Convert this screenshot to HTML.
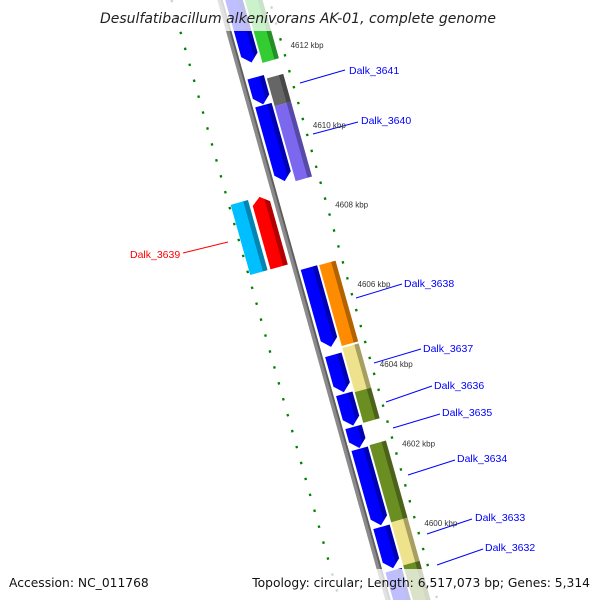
<!DOCTYPE html>
<html><head><meta charset="utf-8"><style>
html,body{margin:0;padding:0;background:#fff;width:600px;height:600px;overflow:hidden;}
svg{display:block;font-family:"Liberation Sans",sans-serif;}
</style></head><body>
<svg id="map" width="600" height="600" viewBox="0 0 600 600" overflow="hidden">
<defs id="defs"></defs>
<g id="rot" transform="translate(220,0) rotate(-15.64)">
  <rect x="-2.6" y="-100" width="5.2" height="800" fill="#8a8a8a"/>
  <rect x="0.8" y="-100" width="1.8" height="800" fill="#5e5e5e"/>
  <g id="ticks"></g>
  <g id="genes"></g>
</g>
<g id="labels" font-size="10.5" fill="#0000ff">
  <line x1="300" y1="83" x2="345" y2="70" stroke="#0000ff"/>
  <text x="349" y="74">Dalk_3641</text>
  <line x1="313" y1="134" x2="358" y2="122" stroke="#0000ff"/>
  <text x="361" y="124">Dalk_3640</text>
  <line x1="183" y1="253" x2="228" y2="242" stroke="#ff0000"/>
  <text x="130" y="258" fill="#ff0000">Dalk_3639</text>
  <line x1="356" y1="298" x2="402" y2="284" stroke="#0000ff"/>
  <text x="404" y="287">Dalk_3638</text>
  <line x1="374" y1="363" x2="421" y2="349" stroke="#0000ff"/>
  <text x="423" y="352">Dalk_3637</text>
  <line x1="386" y1="402" x2="432" y2="386" stroke="#0000ff"/>
  <text x="434" y="389">Dalk_3636</text>
  <line x1="393" y1="428" x2="440" y2="414" stroke="#0000ff"/>
  <text x="442" y="416">Dalk_3635</text>
  <line x1="408" y1="475" x2="455" y2="460" stroke="#0000ff"/>
  <text x="457" y="462">Dalk_3634</text>
  <line x1="427" y1="534" x2="472" y2="519" stroke="#0000ff"/>
  <text x="475" y="521">Dalk_3633</text>
  <line x1="437" y1="565" x2="483" y2="549" stroke="#0000ff"/>
  <text x="485" y="551">Dalk_3632</text>
</g>
<g id="kbp" font-size="8" fill="#333"></g>
<rect x="100" y="0" width="400" height="31" fill="#fff" fill-opacity="0.75"/>
<text x="298" y="23" text-anchor="middle" font-size="14" font-style="italic" fill="#222" style='font-family:"DejaVu Sans",sans-serif'>Desulfatibacillum alkenivorans AK-01, complete genome</text>
<rect x="0" y="569" width="600" height="31" fill="#fff" fill-opacity="0.75"/>
<text x="9" y="587" font-size="12.3" fill="#111" style='font-family:"DejaVu Sans",sans-serif'>Accession: NC_011768</text>
<text x="590" y="587" font-size="12.3" fill="#111" text-anchor="end" style='font-family:"DejaVu Sans",sans-serif'>Topology: circular; Length: 6,517,073 bp; Genes: 5,314</text>
</svg>
<script>
// data (kbp positions)
const fwdStarts = [4614.5, 4611.48, 4610.78, 4606.70, 4604.51, 4603.53, 4602.70, 4602.15, 4600.19, 4599.10];
const fwdEnds   = [4611.85, 4610.80, 4608.87, 4604.71, 4603.57, 4602.73, 4602.17, 4600.23, 4599.15, 4598.0];
const cogStarts = [4614.5, 4611.38, 4610.68, 4606.69, 4604.61, 4603.50, 4602.17, 4600.23, 4599.15];
const cogEnds   = [4611.77, 4610.68, 4608.80, 4604.66, 4603.50, 4602.73, 4600.23, 4599.15, 4598.0];
const cogColors = ["#33cc33","#666666","#7b68ee","#ff8c00","#eee38c","#6b8e23","#6b8e23","#eee38c","#6b8e23"];
const revStarts = [4608.67, 4608.67];
const revEnds   = [4606.91, 4606.91];
const revColors = ["#ff0000","#00bfff"];
const majorTicks = [4614, 4612, 4610, 4608, 4606, 4604, 4602, 4600, 4598];
const tickLabels = ["4614 kbp","4612 kbp","4610 kbp","4608 kbp","4606 kbp","4604 kbp","4602 kbp","4600 kbp","4598 kbp"];

const NS = "http://www.w3.org/2000/svg";
const T0 = 62.5, PX = 41.35, REF = 4612;
function tScale(k){ return T0 + (REF - k) * PX; }
const COS = Math.cos(15.64*Math.PI/180), SIN = Math.sin(15.64*Math.PI/180);
function toScreen(u,t){ return [220 + u*COS + t*SIN, -u*SIN + t*COS]; }

const defs = document.getElementById('defs');
let gid = 0;
function shade(c, f){
  const n = parseInt(c.slice(1),16);
  let r=(n>>16)&255,g=(n>>8)&255,b=n&255;
  r=Math.round(r*f);g=Math.round(g*f);b=Math.round(b*f);
  return "rgb("+r+","+g+","+b+")";
}
function grad(c){
  const id = "g"+(gid++);
  const lg = document.createElementNS(NS,'linearGradient');
  lg.setAttribute('id', id);
  lg.setAttribute('x1','0'); lg.setAttribute('x2','1'); lg.setAttribute('y1','0'); lg.setAttribute('y2','0');
  [[0,c],[0.72,c],[0.74,shade(c,0.7)],[1,shade(c,0.7)]].forEach(s=>{
    const st = document.createElementNS(NS,'stop');
    st.setAttribute('offset', s[0]); st.setAttribute('stop-color', s[1]);
    lg.appendChild(st);
  });
  defs.appendChild(lg);
  return "url(#"+id+")";
}

const genes = document.getElementById('genes');
function poly(pts, fill, name){
  const p = document.createElementNS(NS,'polygon');
  p.setAttribute('points', pts.map(q=>q.join(',')).join(' '));
  p.setAttribute('fill', fill);
  
  
  genes.appendChild(p);
}
const blueFill = grad("#0000ff");
fwdStarts.forEach((s,i)=>{
  const t0 = tScale(s), t1 = tScale(fwdEnds[i]);
  const u0 = 5, u1 = 22, h = Math.min(8, (t1-t0)*0.5);
  poly([[u0,t0],[u1,t0],[u1,t1-h],[(u0+u1)/2,t1],[u0,t1-h]], blueFill, 'forward-gene-'+i);
});
cogStarts.forEach((s,i)=>{
  const t0 = tScale(s), t1 = tScale(cogEnds[i]);
  poly([[24,t0],[41,t0],[41,t1],[24,t1]], grad(cogColors[i]), 'cog-feature-'+i);
});
revStarts.forEach((s,i)=>{
  const t0 = tScale(s), t1 = tScale(revEnds[i]);
  const u0 = i===0 ? -24 : -45, u1 = i===0 ? -6 : -27;
  let pts;
  if(i===0) pts = [[u0,t0+7],[(u0+u1)/2,t0],[u1,t0+7],[u1,t1],[u0,t1]];
  else pts = [[u0,t0],[u1,t0],[u1,t1],[u0,t1]];
  poly(pts, grad(revColors[i]), 'reverse-gene-'+i);
});

const ticks = document.getElementById('ticks');
function tick(u0,u1,t,w,name){
  const l = document.createElementNS(NS,'line');
  l.setAttribute('x1',u0); l.setAttribute('x2',u1);
  l.setAttribute('y1',t); l.setAttribute('y2',t);
  l.setAttribute('stroke','#008000'); l.setAttribute('stroke-width',w);
  
  
  ticks.appendChild(l);
}
for(let k=4614.6; k>=4598; k-=0.4){
  const t = tScale(k);
  const major = majorTicks.some(m=>Math.abs(m-k)<0.05);
  if(major){ tick(44,51,t,2.2,'major-tick'); tick(-50,-43,t,2.2,'inner-major-tick'); }
  else { tick(46.5,48.8,t,2.4,'minor-tick'); tick(-47.8,-45.5,t,2.4,'inner-minor-tick'); }
}
const kbp = document.getElementById('kbp');
majorTicks.forEach((m,i)=>{
  const p = toScreen(55, tScale(m)+3);
  if(p[1] < 10 || p[1] > 560) return;
  const tx = document.createElementNS(NS,'text');
  tx.setAttribute('x', p[0].toFixed(1)); tx.setAttribute('y', p[1].toFixed(1));
  tx.textContent = tickLabels[i];
  
  
  kbp.appendChild(tx);
});
</script>
</body></html>
